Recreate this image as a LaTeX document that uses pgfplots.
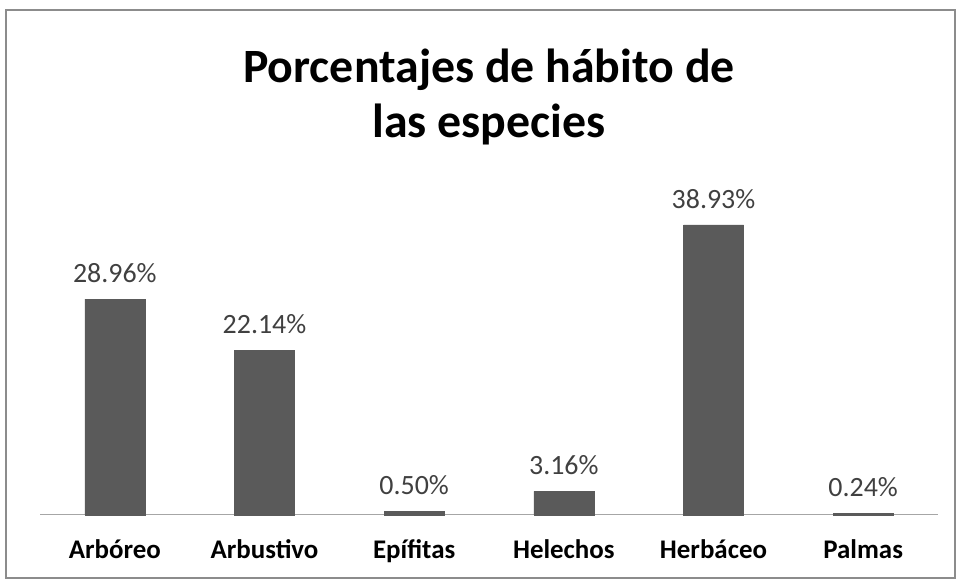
\documentclass[border=0pt]{standalone}
\usepackage{pgfplots}
\pgfplotsset{compat=1.18}
\usepackage{fontspec}
\setmainfont{Carlito}
\definecolor{barc}{HTML}{5A5A5A}
\definecolor{lblc}{HTML}{404040}
\definecolor{axc}{HTML}{A6A6A6}
\definecolor{framec}{HTML}{8C8C8C}
\begin{document}
\begin{tikzpicture}[x=1bp,y=1bp]
\useasboundingbox (0,0) rectangle (956,580);
\draw[framec, line width=1.2bp] (6,2) rectangle (955,570);
\begin{axis}[
  at={(40bp,65bp)}, anchor=south west,
  scale only axis, width=898bp, height=298bp,
  xmin=-0.5, xmax=5.5, ymin=0, ymax=40,
  axis x line*=bottom, axis y line=none,
  x axis line style={axc, line width=1bp, -},
  xtick={0,1,2,3,4,5},
  xticklabels={Arbóreo,Arbustivo,Epífitas,Helechos,Herbáceo,Palmas},
  xticklabel style={font=\fontsize{27}{30}\selectfont\bfseries, text=black, yshift=-21bp},
  major tick length=0pt,
  ytick=\empty,
  clip=false,
  title={Porcentajes de hábito de\\las especies},
  title style={font=\fontsize{48}{56}\selectfont\bfseries, align=center, at={(rel axis cs:0.5,1)}, anchor=center, yshift=114bp},
  nodes near coords,
  point meta=explicit symbolic,
  every node near coord/.append style={font=\fontsize{28}{30}\selectfont, text=lblc, anchor=south, yshift=13bp},
]
\addplot[ybar, bar width=60bp, fill=barc, draw=barc] table[meta=lbl] {
x y lbl
0 28.96 28.96\%
1 22.14 22.14\%
2 0.50 0.50\%
3 3.16 3.16\%
4 38.93 38.93\%
5 0.24 0.24\%
};
\end{axis}
\end{tikzpicture}
\end{document}
